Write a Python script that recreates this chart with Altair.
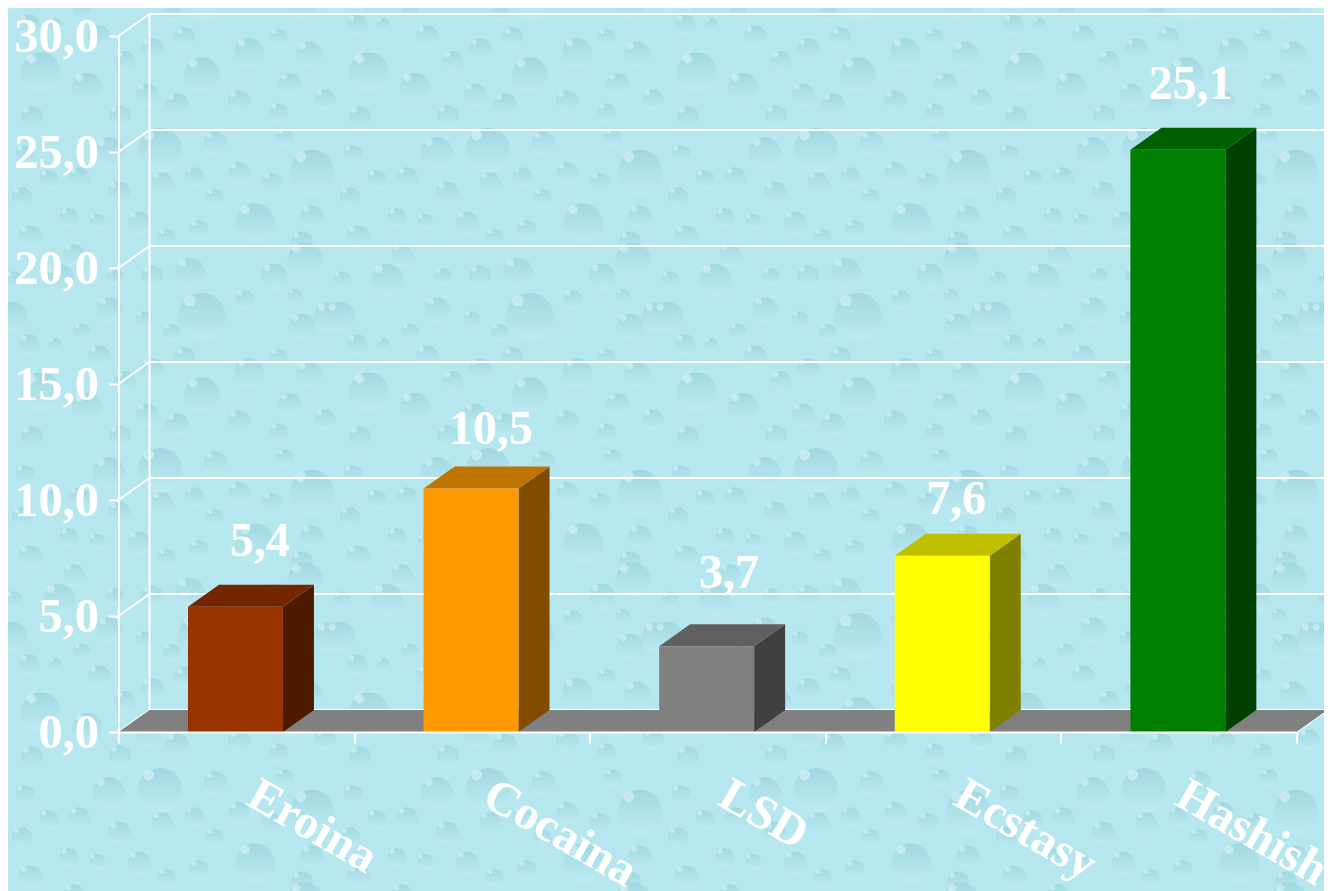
import altair as alt
import pandas as pd

# ---- chart values ----
categories = ["Eroina", "Cocaina", "LSD", "Ecstasy", "Hashish"]
values = [5.4, 10.5, 3.7, 7.6, 25.1]
value_labels = ["5,4", "10,5", "3,7", "7,6", "25,1"]
front_colors = ["#993300", "#ff9900", "#808080", "#ffff00", "#008000"]
top_colors = ["#732600", "#bf7300", "#606060", "#bfbf00", "#006000"]
side_colors = ["#4d1a00", "#804d00", "#404040", "#808000", "#004000"]
y_ticks = [0, 5, 10, 15, 20, 25, 30]

# water-drop wallpaper: one tile (centre x, centre y, radius, px)
drop_x = [369, 415, 357, 383, 427, 453, 480, 513, 530, 577, 607, 637, 475, 505, 567, 618, 607, 653, 360, 448,
          437, 488, 543, 353, 377, 407, 447, 490, 522, 567, 600, 640, 613, 350, 543,
          397, 425, 467, 358, 527, 583, 640, 495, 630,
          387, 402, 342, 443, 480, 518, 602, 633, 573, 437, 530, 472, 623, 340, 657, 630, 500, 410]
drop_y = [72, 88, 25, 25, 37, 62, 50, 38, 75, 53, 38, 55, 95, 105, 102, 85, 113, 100, 118, 117,
          153, 150, 143, 155, 180, 178, 193, 183, 177, 173, 183, 172, 138, 198, 198,
          218, 222, 223, 237, 230, 223, 217, 238, 243,
          280, 255, 280, 277, 277, 273, 277, 260, 300, 310, 317, 320, 297, 317, 317, 327, 333, 332]
drop_r = [22, 17, 12, 8, 13, 12, 13, 12, 20, 17, 10, 15, 13, 13, 13, 13, 11, 12, 13, 13,
          18, 25, 13, 11, 11, 12, 13, 12, 11, 12, 11, 25, 10, 12, 10,
          11, 9, 13, 13, 11, 22, 13, 10, 13,
          18, 12, 10, 10, 13, 17, 15, 20, 11, 14, 27, 10, 9, 17, 17, 15, 10, 10]
TILE_W, TILE_H = 328, 320

# ---- layout, in axis units ----
W, H = 1178, 696          # front plane of the box, px
LEFT, TOP = 110.5, 28     # position of that plane in the canvas
DX, DY = 31 / W * 5, 22 / H * 30   # depth of the 3D box
BAR_A, BAR_B = 0.295, 0.698
LABEL_X = [0.10, 0.08, 0.09, 0.055, 0.05]
LABEL_Y = [2.8, 2.5, 3.1, 2.4, 2.8]
CAT_X = [0.565, 0.565, 0.565, 0.565, 0.505]
CAT_Y = -2.57
BG = "#b6e7ee"
FONT = "Liberation Serif"

x_scale = alt.Scale(domain=[0, 5], nice=False, zero=False)
y_scale = alt.Scale(domain=[0, 30], nice=False, zero=False)
X = lambda f, **k: alt.X(f, type="quantitative", scale=x_scale, title=None, **k)
Y = lambda f, **k: alt.Y(f, type="quantitative", scale=y_scale, title=None, **k)


def to_u(px):
    return (px - 8 - LEFT) / W * 5


def to_v(py):
    return (TOP + H + 8 - py) / H * 30


drops, shines = [], []
for k in range(-1, 4):
    for j in range(-1, 3):
        for x0, y0, r in zip(drop_x, drop_y, drop_r):
            px, py = x0 + k * TILE_W, y0 + j * TILE_H
            if -30 < px < 1350 and -30 < py < 920:
                drops.append({"x": to_u(px), "y": to_v(py), "s": 3.14 * r * r})
                shines.append({"x": to_u(px - 0.45 * r), "y": to_v(py - 0.6 * r), "s": 0.18 * r * r})

drop_layer = alt.Chart(pd.DataFrame(drops)).mark_point(
    filled=True, shape="circle", clip=False, opacity=0.85,
    color=alt.Gradient(
        gradient="linear", x1=0, y1=0, x2=0, y2=1,
        stops=[alt.GradientStop(offset=0, color="#9dd5e0"), alt.GradientStop(offset=1, color="#bfebf1")],
    ),
).encode(x=X("x"), y=Y("y"), size=alt.Size("s:Q", scale=None, legend=None))
shine_layer = alt.Chart(pd.DataFrame(shines)).mark_point(
    filled=True, shape="circle", clip=False, color="#d8f4f7", opacity=0.6,
).encode(x=X("x"), y=Y("y"), size=alt.Size("s:Q", scale=None, legend=None))

# back wall horizontals, left wall diagonals and verticals
wall = []
for v in y_ticks:
    wall.append({"g": f"h{v}", "x": DX, "y": v + DY})
    wall.append({"g": f"h{v}", "x": 5 + DX, "y": v + DY})
    wall.append({"g": f"d{v}", "x": 0, "y": v})
    wall.append({"g": f"d{v}", "x": DX, "y": v + DY})
wall += [
    {"g": "vl", "x": DX, "y": DY}, {"g": "vl", "x": DX, "y": 30 + DY},
    {"g": "vr", "x": 5 + DX, "y": DY}, {"g": "vr", "x": 5 + DX, "y": 30 + DY},
    {"g": "dr", "x": 5, "y": 0}, {"g": "dr", "x": 5 + DX, "y": DY},
]
wall_df = pd.DataFrame(wall)

axes = alt.Chart(wall_df).mark_line(color="white", strokeWidth=2, clip=False).encode(
    x=X("x", axis=alt.Axis(values=list(range(6)), labels=False, grid=False, domainColor="white",
                           domainWidth=2, tickColor="white", tickWidth=2, tickSize=11, zindex=1)),
    y=Y("y", axis=alt.Axis(values=y_ticks, grid=False, domainColor="white", domainWidth=2,
                           tickColor="white", tickWidth=2, tickSize=10, labelPadding=10,
                           labelColor="white", labelFont=FONT, labelFontWeight="bold",
                           labelFontSize=48.5, labelFlush=False, labelOverlap=False,
                           labelBound=False, zindex=1,
                           labelExpr="replace(format(datum.value,'.1f'),'.',',')")),
    detail="g:N",
)

floor_df = pd.DataFrame([
    {"y": 0.0, "a": 0.0, "b": 5.0},
    {"y": DY, "a": DX, "b": 5 + DX},
])
floor = alt.Chart(floor_df).mark_area(orient="horizontal", color="#808080", clip=False).encode(
    y=Y("y"), x=X("a"), x2=alt.X2("b"),
)

front_rows, top_rows, side_rows, label_rows, cat_rows = [], [], [], [], []
for i, (c, v) in enumerate(zip(categories, values)):
    a, b = i + BAR_A, i + BAR_B
    front_rows.append({"a": a, "b": b, "z": 0.0, "v": v, "c": front_colors[i]})
    top_rows += [
        {"i": i, "y": v, "a": a, "b": b, "c": top_colors[i]},
        {"i": i, "y": v + DY, "a": a + DX, "b": b + DX, "c": top_colors[i]},
    ]
    side_rows += [
        {"i": i, "x": b, "lo": 0.0, "hi": v, "c": side_colors[i]},
        {"i": i, "x": b + DX, "lo": DY, "hi": v + DY, "c": side_colors[i]},
    ]
    label_rows.append({"x": i + 0.5 + LABEL_X[i], "y": v + LABEL_Y[i], "t": value_labels[i]})
    cat_rows.append({"x": i + CAT_X[i], "y": CAT_Y, "t": c})

front = alt.Chart(pd.DataFrame(front_rows)).mark_rect(clip=False).encode(
    x=X("a"), x2=alt.X2("b"), y=Y("z"), y2=alt.Y2("v"),
    color=alt.Color("c:N", scale=None),
)
top = alt.Chart(pd.DataFrame(top_rows)).mark_area(orient="horizontal", clip=False).encode(
    y=Y("y"), x=X("a"), x2=alt.X2("b"), detail="i:N", color=alt.Color("c:N", scale=None),
)
side = alt.Chart(pd.DataFrame(side_rows)).mark_area(clip=False).encode(
    x=X("x"), y=Y("lo"), y2=alt.Y2("hi"), detail="i:N", color=alt.Color("c:N", scale=None),
)
val_text = alt.Chart(pd.DataFrame(label_rows)).mark_text(
    font=FONT, fontWeight="bold", fontSize=48, color="white", baseline="middle", clip=False
).encode(x=X("x"), y=Y("y"), text="t:N")
cat_text = alt.Chart(pd.DataFrame(cat_rows)).mark_text(
    font=FONT, fontWeight="bold", fontSize=48, color="white", baseline="middle",
    align="left", angle=30, clip=False
).encode(x=X("x"), y=Y("y"), text="t:N")

chart = alt.layer(drop_layer, shine_layer, axes, floor, side, top, front, val_text, cat_text).properties(
    width=W, height=H,
    background=BG,
    autosize=alt.AutoSizeParams(type="none"),
    padding={"left": LEFT, "top": TOP, "right": 27.5, "bottom": 159},
).configure_view(stroke=None)

chart.save("out.html", embed_options={"renderer": "svg", "actions": False})
